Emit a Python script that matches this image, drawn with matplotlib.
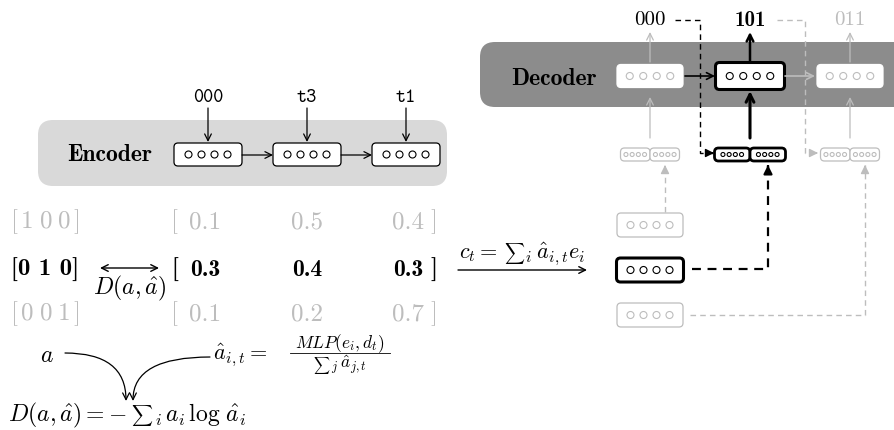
import matplotlib.pyplot as plt
from matplotlib.patches import FancyBboxPatch, Circle, FancyArrowPatch

plt.rcParams['mathtext.fontset'] = 'cm'

# data shown in the diagram
enc_inputs = ['000', 't3', 't1']
dec_outputs = ['000', '101', '011']
one_hot = [[1, 0, 0], [0, 1, 0], [0, 0, 1]]
attn = [[0.1, 0.5, 0.4], [0.3, 0.4, 0.3], [0.1, 0.2, 0.7]]
active = 1  # the decoding step drawn in black

GRAY = '#bdbdbd'
ENC_BG = '#d9d9d9'
DEC_BG = '#8c8c8c'
SUM = r'$\sum$'

fig = plt.figure(figsize=(8.94, 4.3), dpi=100)
ax = fig.add_axes([0, 0, 1, 1])
ax.set_xlim(0, 894)
ax.set_ylim(430, 0)
ax.axis('off')
renderer = fig.canvas.get_renderer()


def rbox(x0, y0, w, h, r, **kw):
    ax.add_patch(FancyBboxPatch((x0, y0), w, h,
                                boxstyle=f'round,pad=0,rounding_size={r}', **kw))


def cell(cx, cy, w, h, n=4, r=3.5, step=13, ec='black', fc='white', lw=0.9,
         dot='black', dot_lw=0.8):
    rbox(cx - w / 2, cy - h / 2, w, h, 4, ec=ec, fc=fc, lw=lw, zorder=3)
    for k in range(n):
        ax.add_patch(Circle((cx + (k - (n - 1) / 2) * step, cy), r,
                            fc='none', ec=dot, lw=dot_lw, zorder=4))


def pair(cx, cy, w, h, **kw):
    # concatenation of two small vectors
    cell(cx - w / 4, cy, w / 2, h, r=2, step=6.2, **kw)
    cell(cx + w / 4, cy, w / 2, h, r=2, step=6.2, **kw)


def arrow(p0, p1, color='black', lw=0.9, style='->', ms=12, **kw):
    ax.add_patch(FancyArrowPatch(p0, p1, arrowstyle=style, mutation_scale=ms,
                                 color=color, lw=lw, shrinkA=0, shrinkB=0,
                                 zorder=5, **kw))


def dashed(xs, ys, color='black', lw=1.0):
    ax.plot(xs, ys, color=color, lw=lw, ls=(0, (4, 3)), zorder=2)
    dx, dy = xs[-1] - xs[-2], ys[-1] - ys[-2]
    n = (dx ** 2 + dy ** 2) ** 0.5
    arrow((xs[-1] - dx / n * 2, ys[-1] - dy / n * 2), (xs[-1], ys[-1]),
          color=color, lw=lw, style='-|>,head_length=0.5,head_width=0.25', ms=10)


def seq(x, y, parts, center=False):
    # lay out math pieces left to right on one baseline; parts: (text, size, gap, dy)
    placed = []
    pos = 0
    for s, size, gap, dy in parts:
        pos += gap
        va = 'center' if s == SUM else 'baseline'
        t = ax.text(0, y + dy, s, fontsize=size, ha='left', va=va)
        w = t.get_window_extent(renderer).width
        placed.append((t, pos))
        pos += w
    x0 = x - pos / 2 if center else x
    for t, p in placed:
        t.set_x(x0 + p)


# ---------------- encoder ----------------
rbox(38, 120, 409, 66, 15, fc=ENC_BG, ec='none', zorder=1)
ax.text(110, 155, 'Encoder', family='cmb10', fontsize=17, ha='center', va='center')
enc_x = [208, 307, 406]
for i, (x, lab) in enumerate(zip(enc_x, enc_inputs)):
    cell(x, 154.5, 68, 23)
    ax.text(x, 98, lab, family='cmtt10', fontsize=14, ha='center', va='center')
    arrow((x, 108), (x, 142))
    if i < len(enc_x) - 1:
        arrow((x + 34, 155), (enc_x[i + 1] - 34, 155))

# ---------------- decoder ----------------
rbox(480, 42, 430, 65, 15, fc=DEC_BG, ec='none', zorder=1)
ax.text(554, 79, 'Decoder', family='cmb10', fontsize=17, ha='center', va='center')
dec_x = [650, 750, 850]
for i, (x, lab) in enumerate(zip(dec_x, dec_outputs)):
    on = i == active
    col = 'black' if i <= active else GRAY
    if on:
        cell(x, 76, 69, 27, lw=2.2, step=13.5)
        ax.text(x, 20, lab, family='cmb10', fontsize=15, ha='center', va='center')
        arrow((x, 62), (x, 32), lw=1.8)
        arrow((x, 138), (x, 91), lw=2.2, ms=14)
        pair(x, 154.5, 71, 13, lw=2.0)
    else:
        cell(x, 76, 66, 23, ec='white', dot=GRAY, step=13.5)
        ax.text(x, 20, lab, family='cmr10', fontsize=15, ha='center', va='center', color=col)
        arrow((x, 62), (x, 32), color=GRAY)
        arrow((x, 138), (x, 97), color=GRAY)
        pair(x, 154.5, 59, 13, ec=GRAY, dot=GRAY)
    if i < len(dec_x) - 1:
        c = 'black' if i < active else GRAY
        arrow((x + 35, 76), (dec_x[i + 1] - 35, 76), color=c, lw=1.2)

# previous output fed back into the next step
dashed([675, 700, 700, 714], [20, 20, 153, 153], color='black')
dashed([777, 805, 805, 818], [20, 20, 153, 153], color=GRAY)

# ---------------- context vectors ----------------
ctx_y = [225, 270, 315]
for j, y in enumerate(ctx_y):
    if j == active:
        cell(650, y, 67, 24, lw=2.2)
    else:
        cell(650, y, 66, 24, ec=GRAY, dot=GRAY)
dashed([665, 665], [212, 165], color=GRAY)
dashed([692, 768, 768], [269, 269, 165], color='black', lw=1.6)
dashed([690, 865, 865], [315, 315, 165], color=GRAY)

arrow((458, 270), (587, 270), lw=1.0)
seq(522, 258, [(r'$c_t =$', 16, 0, 0), (SUM, 10, 6, -5),
               (r'${}_i\,\hat{a}_{i,t} e_i$', 16, 0, 0)], center=True)

# ---------------- attention rows ----------------
row_y = [222, 270, 314]
num_x = [205, 307, 408]
for j, y in enumerate(row_y):
    on = j == active
    col = 'black' if on else GRAY
    fam = 'cmb10' if on else 'cmr10'
    vals = one_hot[j]
    if on:
        ax.text(45, y, '[' + ' '.join(str(v) for v in vals) + ']', family='cmb10',
                fontsize=18, ha='center', va='center')
    else:
        s = r'$[\,' + r'\;'.join(str(v) for v in vals) + r'\,]$'
        ax.text(45, y, s, fontsize=18, ha='center', va='center', color=col)
    ax.text(175, y, '[', family=fam, fontsize=18, ha='center', va='center', color=col)
    ax.text(434, y, ']', family=fam, fontsize=18, ha='center', va='center', color=col)
    for x, v in zip(num_x, attn[j]):
        ax.text(x, y, f'{v:.1f}', family=fam, fontsize=17 if on else 18,
                ha='center', va='center', color=col)

arrow((100, 268), (159, 268), style='<->', lw=1.0)
ax.text(130, 288, r'$D(a, \hat{a})$', fontsize=17, ha='center', va='center')

# ---------------- loss ----------------
ax.text(47, 355, r'$a$', fontsize=17, ha='center', va='center')
seq(213, 359, [(r'$\hat{a}_{i,t} =$', 16, 0, 0)])
ax.text(340, 348, r'$MLP(e_i, d_t)$', fontsize=12.5, ha='center', va='baseline')
ax.plot([290, 390], [353, 353], color='black', lw=0.6)
seq(340, 369, [(SUM, 8, 0, -4), (r'${}_j\,\hat{a}_{j,t}$', 12.5, 1, 0)], center=True)
arrow((65, 353), (126, 401), connectionstyle='angle3,angleA=0,angleB=90')
arrow((210, 357), (133, 401), connectionstyle='angle3,angleA=0,angleB=90')
seq(8, 421, [(r'$D(a, \hat{a}) = -$', 17, 0, 0), (SUM, 10.5, 5, -6),
             (r'${}_i\,a_i\,\log\,\hat{a}_i$', 17, 0, 0)])

fig.savefig('out.png', dpi=100)
